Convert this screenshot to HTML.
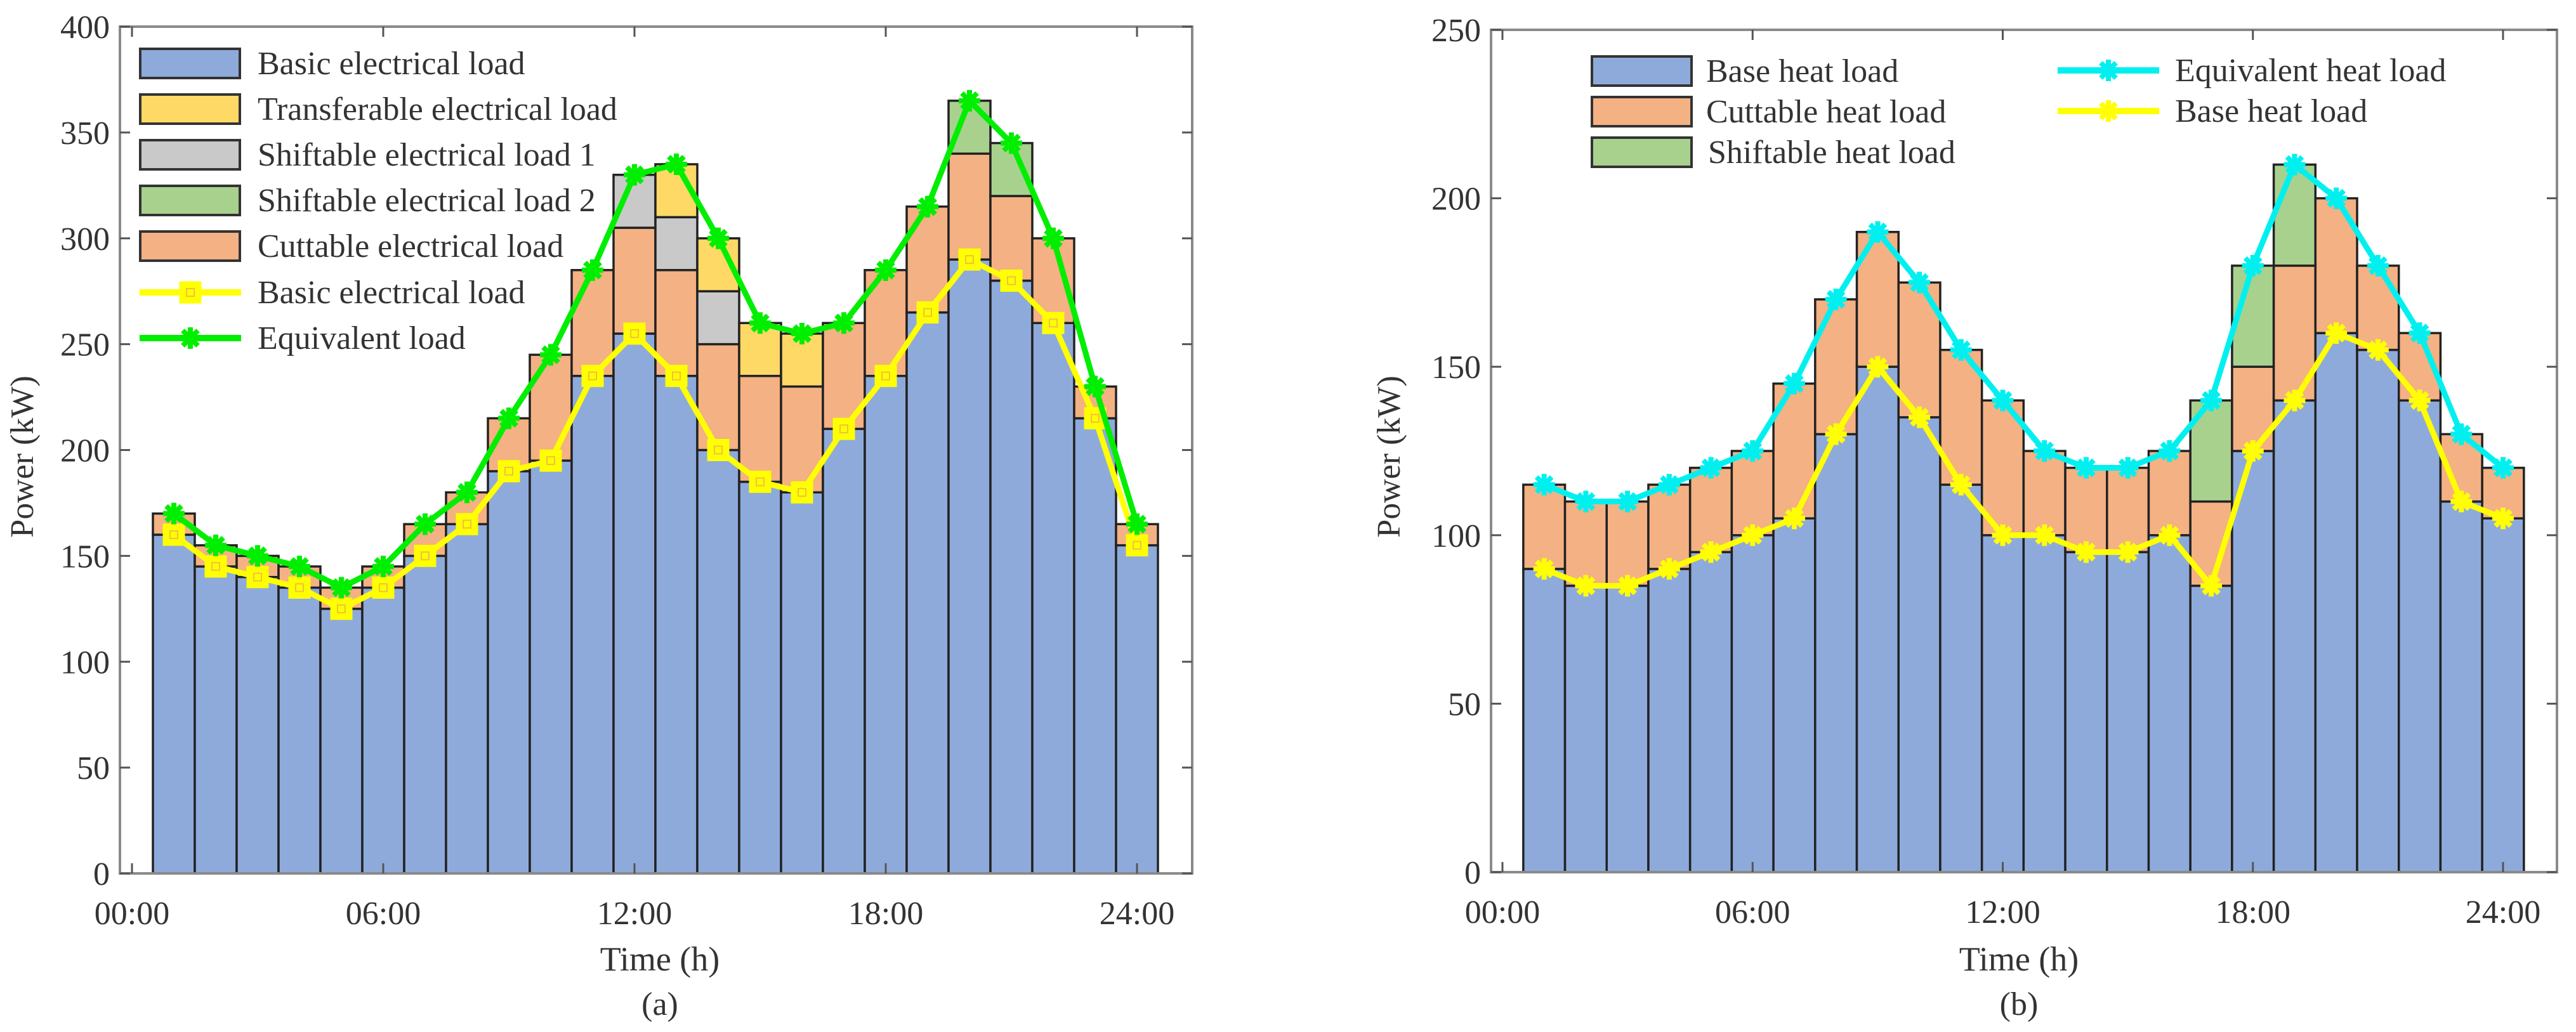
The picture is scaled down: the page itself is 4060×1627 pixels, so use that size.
<!DOCTYPE html>
<html><head><meta charset="utf-8">
<style>
html,body{margin:0;padding:0;background:#fff;}
svg{display:block;}
svg text{font-family:"Liberation Serif","DejaVu Serif",serif;fill:#333;}
</style></head>
<body>
<svg id="chart" width="4060" height="1627" viewBox="0 0 4060 1627" xmlns="http://www.w3.org/2000/svg" font-family="'Liberation Serif', 'DejaVu Serif', serif">
</svg>
<script>
// ---- Panel (a) data ----
const hoursA = [1,2,3,4,5,6,7,8,9,10,11,12,13,14,15,16,17,18,19,20,21,22,23,24];
const basicElec = [160,145,140,135,125,135,150,165,190,195,235,255,235,200,185,180,210,235,265,290,280,260,215,155];
const cutElec = [10,10,10,10,10,10,15,15,25,50,50,50,50,50,50,50,50,50,50,50,40,40,15,10];
const shift1Elec = [0,0,0,0,0,0,0,0,0,0,0,25,25,25,0,0,0,0,0,0,0,0,0,0];
const shift2Elec = [0,0,0,0,0,0,0,0,0,0,0,0,0,0,0,0,0,0,0,25,25,0,0,0];
const transElec = [0,0,0,0,0,0,0,0,0,0,0,0,25,25,25,25,0,0,0,0,0,0,0,0];
const basicElecLine = [160,145,140,135,125,135,150,165,190,195,235,255,235,200,185,180,210,235,265,290,280,260,215,155];
const equivElecLine = [170,155,150,145,135,145,165,180,215,245,285,330,335,300,260,255,260,285,315,365,345,300,230,165];
const yTicksA = [0,50,100,150,200,250,300,350,400];
// ---- Panel (b) data ----
const hoursB = [1,2,3,4,5,6,7,8,9,10,11,12,13,14,15,16,17,18,19,20,21,22,23,24];
const baseHeat = [90,85,85,90,95,100,105,130,150,135,115,100,100,95,95,100,85,125,140,160,155,140,110,105];
const cutHeat = [25,25,25,25,25,25,40,40,40,40,40,40,25,25,25,25,25,25,40,40,25,20,20,15];
const shiftHeat = [0,0,0,0,0,0,0,0,0,0,0,0,0,0,0,0,30,30,30,0,0,0,0,0];
const equivHeatLine = [115,110,110,115,120,125,145,170,190,175,155,140,125,120,120,125,140,180,210,200,180,160,130,120];
const baseHeatLine = [90,85,85,90,95,100,105,130,150,135,115,100,100,95,95,100,85,125,140,160,155,140,110,105];
const yTicksB = [0,50,100,150,200,250];
const xTickHours = [0,6,12,18,24];
const xTickLabels = ["00:00","06:00","12:00","18:00","24:00"];

const NS = "http://www.w3.org/2000/svg";
const svg = document.getElementById('chart');
const FONT = "Liberation Serif, DejaVu Serif, serif";
function mk(tag, attrs, parent){
  const e = document.createElementNS(NS, tag);
  for (const k in attrs) e.setAttribute(k, attrs[k]);
  if (tag === 'text') { e.setAttribute('font-family', FONT); e.style.fontFamily = '"Liberation Serif", "DejaVu Serif", serif'; }
  (parent||svg).appendChild(e);
  return e;
}
const COL = {blue:"#8eaadb", orange:"#f4b183", grey:"#c9c9c9", green:"#a9d18e", yellow:"#ffd966"};

function panel(cfg){
  const g = mk('g', {});
  
  
  const X = h => cfg.x0 + (cfg.x24 - cfg.x0) * h / 24;
  const Y = v => cfg.yb - (cfg.yb - cfg.yt) * v / cfg.ymax;
  const bw = (cfg.x24 - cfg.x0) / 24;
  cfg.hours.forEach((h, i) => {
    let acc = 0;
    cfg.stacks.forEach(s => {
      const v = s.vals[i];
      if (v <= 0) return;
      const r = mk('rect', {x: X(h) - bw/2, y: Y(acc + v), width: bw, height: Y(acc) - Y(acc + v),
        fill: s.color, stroke: "#222", 'stroke-width': 3.5}, g);
      
      
      acc += v;
    });
  });
  const ax = mk('g', {}, g);
  
  
  mk('rect', {x: cfg.left, y: cfg.yt, width: cfg.right - cfg.left, height: cfg.yb - cfg.yt, fill: "none", stroke: "#8a8a8a", 'stroke-width': 4}, ax);
  cfg.yTicks.forEach(t => {
    mk('line', {x1: cfg.left, x2: cfg.left + 16, y1: Y(t), y2: Y(t), stroke: "#555", 'stroke-width': 3}, ax);
    mk('line', {x1: cfg.right, x2: cfg.right - 16, y1: Y(t), y2: Y(t), stroke: "#555", 'stroke-width': 3}, ax);
    const tx = mk('text', {x: cfg.left - 16, y: Y(t) + 18, 'font-size': 52, 'text-anchor': 'end'}, ax);
    tx.textContent = t;
    
    
  });
  xTickHours.forEach((h, i) => {
    mk('line', {x1: X(h), x2: X(h), y1: cfg.yb, y2: cfg.yb - 16, stroke: "#555", 'stroke-width': 3}, ax);
    mk('line', {x1: X(h), x2: X(h), y1: cfg.yt, y2: cfg.yt + 16, stroke: "#555", 'stroke-width': 3}, ax);
    const tx = mk('text', {x: X(h), y: cfg.yb + 80, 'font-size': 52, 'text-anchor': 'middle'}, ax);
    tx.textContent = xTickLabels[i];
    
    
  });
  cfg.lines.forEach(L => {
    const lg = mk('g', {}, g);
    
    
    const pts = cfg.hours.map((h, i) => X(h) + ',' + Y(L.vals[i])).join(' ');
    mk('polyline', {points: pts, fill: "none", stroke: L.color, 'stroke-width': 9, 'stroke-linejoin': 'round'}, lg);
    cfg.hours.forEach((h, i) => drawMarker(lg, L.marker, X(h), Y(L.vals[i]), L.color));
  });
  const yl = mk('text', {x: cfg.ylabX, y: cfg.ylabY, 'font-size': 52, 'text-anchor': 'middle', transform: `rotate(-90 ${cfg.ylabX} ${cfg.ylabY})`}, g);
  yl.textContent = "Power (kW)";
  
  
  const xl = mk('text', {x: cfg.xlabX, y: 1530, 'font-size': 54, 'text-anchor': 'middle'}, g);
  xl.textContent = "Time (h)";
  
  
  const cap = mk('text', {x: cfg.xlabX, y: 1600, 'font-size': 52, 'text-anchor': 'middle'}, g);
  cap.textContent = cfg.caption;
  
  
  return g;
}

function drawMarker(parent, type, cx, cy, color){
  if (type === 'square') {
    mk('rect', {x: cx - 15, y: cy - 15, width: 30, height: 30, fill: color, stroke: color, 'stroke-width': 5}, parent);
    mk('rect', {x: cx - 6, y: cy - 6, width: 12, height: 12, fill: "none", stroke: "#f0c040", 'stroke-width': 2}, parent);
  } else {
    const r = 17;
    for (let a = 0; a < 180; a += 45) {
      const rad = a * Math.PI / 180;
      mk('line', {x1: cx - r*Math.cos(rad), y1: cy - r*Math.sin(rad), x2: cx + r*Math.cos(rad), y2: cy + r*Math.sin(rad), stroke: color, 'stroke-width': 8}, parent);
    }
    mk('circle', {cx: cx, cy: cy, r: 10, fill: color}, parent);
  }
}

panel({name: 'panel-a-electrical', x0: 208, x24: 1792, left: 189, right: 1879, yt: 42, yb: 1377, ymax: 400,
  hours: hoursA, yTicks: yTicksA, caption: "(a)", ylabX: 52, ylabY: 720, xlabX: 1040,
  stacks: [
    {key: 'basic-electrical', vals: basicElec, color: COL.blue},
    {key: 'cuttable-electrical', vals: cutElec, color: COL.orange},
    {key: 'shiftable-electrical-1', vals: shift1Elec, color: COL.grey},
    {key: 'shiftable-electrical-2', vals: shift2Elec, color: COL.green},
    {key: 'transferable-electrical', vals: transElec, color: COL.yellow}],
  lines: [
    {key: 'basic-electrical', vals: basicElecLine, color: "#ffff00", marker: 'square'},
    {key: 'equivalent-load', vals: equivElecLine, color: "#00ee00", marker: 'star'}]
});
panel({name: 'panel-b-heat', x0: 2368, x24: 3945, left: 2350, right: 4030, yt: 47, yb: 1375, ymax: 250,
  hours: hoursB, yTicks: yTicksB, caption: "(b)", ylabX: 2206, ylabY: 720, xlabX: 3182,
  stacks: [
    {key: 'base-heat', vals: baseHeat, color: COL.blue},
    {key: 'cuttable-heat', vals: cutHeat, color: COL.orange},
    {key: 'shiftable-heat', vals: shiftHeat, color: COL.green}],
  lines: [
    {key: 'equivalent-heat', vals: equivHeatLine, color: "#00f0f0", marker: 'star'},
    {key: 'base-heat', vals: baseHeatLine, color: "#ffff00", marker: 'star'}]
});

function legendPatch(x, y, color, label, tx, name){
  const g = mk('g', {});
  
  
  mk('rect', {x: x, y: y - 23, width: 157, height: 46, fill: color, stroke: "#333", 'stroke-width': 4}, g);
  const t = mk('text', {x: tx, y: y + 17, 'font-size': 52}, g);
  t.textContent = label;
}
function legendLine(x, y, color, marker, label, tx, name){
  const g = mk('g', {});
  
  
  mk('line', {x1: x, x2: x + 160, y1: y, y2: y, stroke: color, 'stroke-width': 10}, g);
  drawMarker(g, marker, x + 80, y, color);
  const t = mk('text', {x: tx, y: y + 17, 'font-size': 52}, g);
  t.textContent = label;
}
legendPatch(221, 100, COL.blue, "Basic electrical load", 406, 'legend-basic-electrical');
legendPatch(221, 172, COL.yellow, "Transferable electrical load", 406, 'legend-transferable');
legendPatch(221, 244, COL.grey, "Shiftable electrical load 1", 406, 'legend-shiftable-1');
legendPatch(221, 316, COL.green, "Shiftable electrical load 2", 406, 'legend-shiftable-2');
legendPatch(221, 388, COL.orange, "Cuttable electrical load", 406, 'legend-cuttable');
legendLine(220, 461, "#ffff00", 'square', "Basic electrical load", 406, 'legend-basic-line');
legendLine(220, 533, "#00ee00", 'star', "Equivalent  load", 406, 'legend-equivalent-line');

legendPatch(2509, 112, COL.blue, "Base heat load", 2689, 'legend-base-heat');
legendPatch(2509, 176, COL.orange, "Cuttable heat load", 2689, 'legend-cuttable-heat');
legendPatch(2509, 240, COL.green, "Shiftable heat load", 2692, 'legend-shiftable-heat');
legendLine(3243, 111, "#00f0f0", 'star', "Equivalent heat load", 3428, 'legend-equivalent-heat-line');
legendLine(3243, 175, "#ffff00", 'star', "Base heat load", 3428, 'legend-base-heat-line');
</script>
</body></html>
